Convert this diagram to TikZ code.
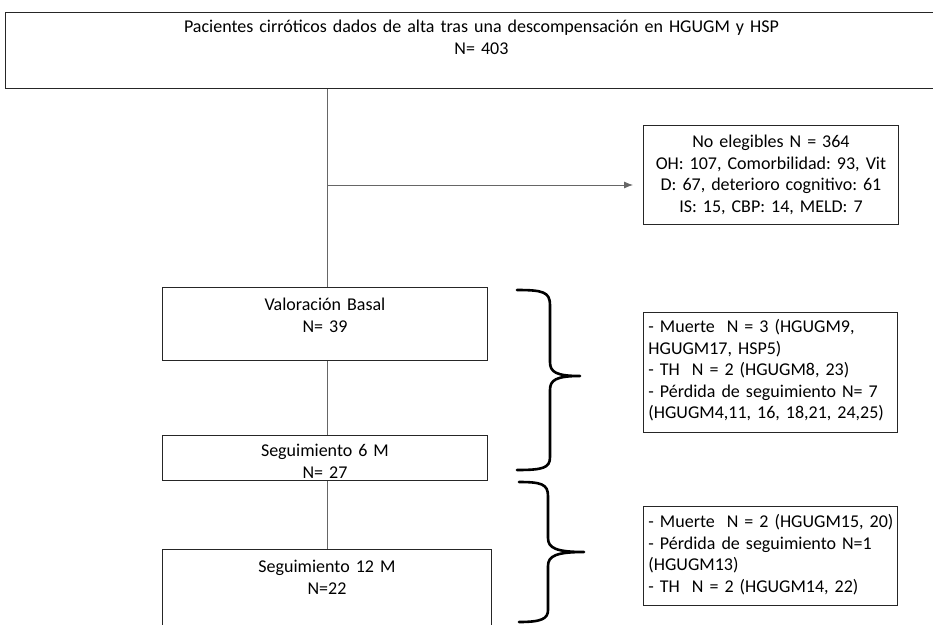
\documentclass[tikz,border=0pt]{standalone}
\usepackage{fontspec}
\setmainfont{Carlito}
\usetikzlibrary{positioning,arrows.meta}
\tikzset{
  caja/.style={draw=black!85, line width=0.9pt, inner sep=0pt, anchor=north west,
    align=center, font=\fontsize{18}{21.5}\selectfont\frenchspacing},
  cajaizq/.style={caja, align=left, text width=244, inner xsep=5pt},
  linea/.style={draw=black!60, line width=0.8pt},
  llave/.style={line width=2.6pt, line cap=round, line join=round},
}

\begin{document}
\begin{tikzpicture}[x=1pt,y=-1pt]
\useasboundingbox (0,0) rectangle (933,624);
\clip (0,0) rectangle (933,624);

% cajas principales
\node[caja, text width=952, text height=20.5, text depth=55.5] (pacientes) at (5,12)
  {Pacientes cirróticos dados de alta tras una descompensación en HGUGM y HSP\\N= 403};
\node[caja, text width=255, text height=22.5, text depth=76.5] (noeleg) at (643,125)
  {No elegibles N = 364\\OH: 107, Comorbilidad: 93, Vit\\D: 67, deterioro cognitivo: 61\\IS: 15, CBP: 14, MELD: 7};
\node[caja, text width=325, text height=23.5, text depth=49.5] (basal) at (162,287)
  {Valoración Basal\\N= 39};
\node[caja, text width=325, text height=21.5, text depth=23.5] (seis) at (162,435)
  {Seguimiento 6 M\\N= 27};
\node[caja, text width=329, text height=23.5, text depth=67.5] (doce) at (162,549)
  {Seguimiento 12 M\\N=22};

% perdidas
\node[cajaizq, text height=20.5, text depth=99.5] (perd6) at (643,312)
  {- Muerte~~N = 3 (HGUGM9,\\HGUGM17, HSP5)\\- TH~~N = 2 (HGUGM8, 23)\\- Pérdida de seguimiento N= 7\\(HGUGM4,11, 16, 18,21, 24,25)};
\node[cajaizq, text height=21.5, text depth=77.5] (perd12) at (643,506)
  {\mbox{- Muerte\ \ N = 2 (HGUGM15, 20)}\\- Pérdida de seguimiento N=1\\(HGUGM13)\\- TH~~N = 2 (HGUGM14, 22)};

% conectores
\coordinate (eje) at (327,0);
\coordinate (rama) at (327,185);
\draw[linea] (pacientes.south -| eje) -- (basal.north -| eje);
\draw[linea, -{Latex[length=9pt,width=7pt]}, shorten >=10pt] (rama) -- (rama -| noeleg.west);
\draw[linea] (basal.south -| eje) -- (seis.north -| eje);
\draw[linea] (seis.south -| eje) -- (doce.north -| eje);

% llaves
\draw[llave] (517,290) .. controls (543,290) and (550,292) .. (550,305) -- (550,362)
  .. controls (550,372) and (556,376) .. (580,376)
  .. controls (556,376) and (550,380) .. (550,390) -- (550,457)
  .. controls (550,468) and (543,470) .. (517,470);
\draw[llave] (519,482) .. controls (541,482) and (548,484) .. (548,496) -- (548,538)
  .. controls (548,548) and (556,552) .. (584,552)
  .. controls (556,552) and (548,556) .. (548,566) -- (548,610)
  .. controls (548,619) and (541,622) .. (519,622);
\end{tikzpicture}
\end{document}
